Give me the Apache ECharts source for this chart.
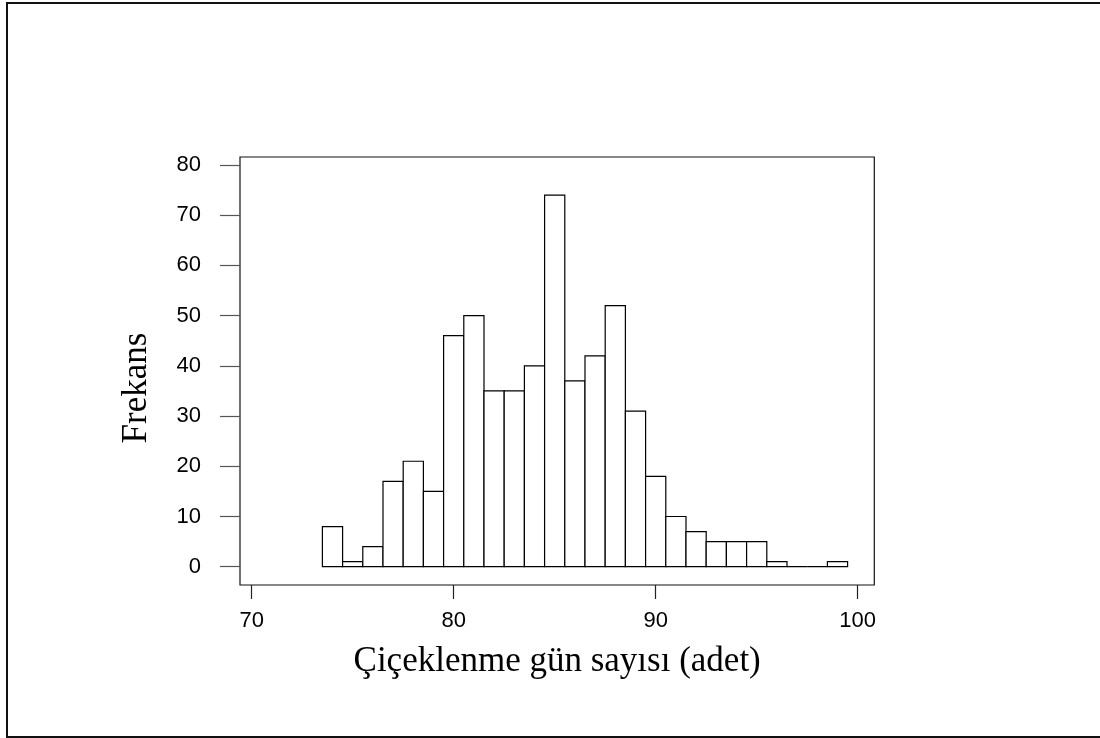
<!DOCTYPE html>
<html>
<head>
<meta charset="utf-8">
<title>Frekans</title>
<script src="https://cdn.jsdelivr.net/npm/echarts@6/dist/echarts.min.js"></script>
<style>
html, body { margin: 0; padding: 0; background: #fff; }
#chart { width: 1100px; height: 738px; }
</style>
</head>
<body>
<div id="chart"></div>
<script>
// gün sayısı (bin merkezi) ve frekans
var days = [74, 75, 76, 77, 78, 79, 80, 81, 82, 83, 84, 85, 86, 87, 88, 89, 90, 91, 92, 93, 94, 95, 96, 97, 98, 99];
var counts = [8, 1, 4, 17, 21, 15, 46, 50, 35, 35, 40, 74, 37, 42, 52, 31, 18, 10, 7, 5, 5, 5, 1, 0, 0, 1];
var xTicks = [70, 80, 90, 100];
var yTicks = [0, 10, 20, 30, 40, 50, 60, 70, 80];
var binWidth = 1;

var chart = echarts.init(document.getElementById('chart'));

var data = [];
for (var i = 0; i < days.length; i++) {
	data.push([days[i], counts[i]]);
}

function renderBar(params, api) {
	var x = api.value(0);
	var y = api.value(1);
	var p0 = api.coord([x - binWidth / 2, 0]);
	var p1 = api.coord([x + binWidth / 2, y]);
	return {
		type: 'rect',
		shape: { x: p0[0], y: p1[1], width: p1[0] - p0[0], height: p0[1] - p1[1] },
		style: { fill: '#fff', stroke: '#000', lineWidth: 1.2 }
	};
}

chart.setOption({
	animation: false,
	backgroundColor: '#fff',
	// çerçeve eksen sınırlarının biraz dışında
	grid: {
		left: 240, right: 225.7, top: 157, bottom: 153,
		show: true, borderColor: '#111', borderWidth: 1.2, backgroundColor: 'transparent'
	},
	xAxis: {
		type: 'value',
		min: 69.421,
		max: 100.822,
		name: 'Çiçeklenme gün sayısı (adet)',
		nameLocation: 'middle',
		nameGap: 59,
		nameTextStyle: { fontFamily: 'Liberation Serif', fontSize: 35, color: '#000' },
		axisLine: { show: false, onZero: false },
		axisTick: { show: true, length: 14, customValues: xTicks, lineStyle: { color: '#222', width: 1.2 } },
		axisLabel: { margin: 25, customValues: xTicks, fontFamily: 'Liberation Sans', fontSize: 22, color: '#000' },
		splitLine: { show: false }
	},
	yAxis: {
		type: 'value',
		min: -3.645,
		max: 81.593,
		axisLine: { show: false, onZero: false },
		axisTick: { show: true, length: 20, customValues: yTicks, lineStyle: { color: '#555', width: 1.2 } },
		axisLabel: { margin: 39, customValues: yTicks, fontFamily: 'Liberation Sans', fontSize: 22, color: '#000' },
		splitLine: { show: false }
	},
	graphic: [
		{
			type: 'rect', silent: true, z: -1,
			shape: { x: 7, y: 3, width: 1110, height: 734 },
			style: { fill: 'none', stroke: '#111', lineWidth: 2 }
		},
		{
			type: 'text', silent: true,
			x: 137, y: 388, rotation: Math.PI / 2,
			style: {
				text: 'Frekans', fontFamily: 'Liberation Serif', fontSize: 35, fill: '#000',
				align: 'center', verticalAlign: 'middle'
			}
		}
	],
	series: [{
		type: 'custom',
		renderItem: renderBar,
		data: data,
		encode: { x: 0, y: 1 }
	}]
});
</script>
</body>
</html>
